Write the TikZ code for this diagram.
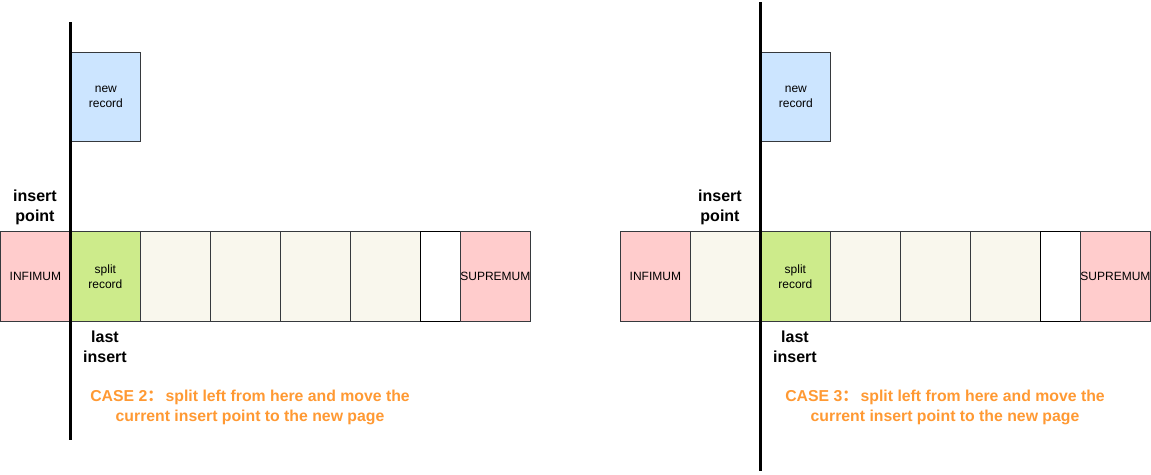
\documentclass[tikz,border=0pt]{standalone}
\usepackage{fontspec}
\setmainfont{Liberation Sans}
\newfontfamily\cjk{Noto Sans CJK SC}
\definecolor{pinkf}{HTML}{FFCCCC}
\definecolor{greenf}{HTML}{CDEB8B}
\definecolor{bluef}{HTML}{CCE5FF}
\definecolor{beigef}{HTML}{F9F7ED}
\definecolor{edge}{HTML}{36393D}
\definecolor{oranget}{HTML}{FF9933}
\begin{document}
\begin{tikzpicture}[x=1pt,y=-1pt,
  cell/.style={draw=edge,line width=0.8pt,minimum height=90pt,inner sep=0pt,font=\fontsize{12}{15}\selectfont,align=center,anchor=north west},
  rec/.style={cell,minimum width=70pt},
  narrow/.style={cell,minimum width=40pt,fill=white,draw=black},
  lbl/.style={font=\bfseries\fontsize{16}{20}\selectfont,align=center},
  casetxt/.style={font=\bfseries\fontsize{15.8}{20}\selectfont,align=center,text=oranget},
  split/.style={line width=3pt,black}]
\useasboundingbox (0,0) rectangle (1151,474);
% ---------- left diagram ----------
\node[rec,fill=pinkf] (linf) at (0,231) {INFIMUM};
\node[rec,fill=greenf] (lsplit) at (70,231) {split\\record};
\node[rec,fill=beigef] (lb1) at (140,231) {};
\node[rec,fill=beigef] (lb2) at (210,231) {};
\node[rec,fill=beigef] (lb3) at (280,231) {};
\node[rec,fill=beigef] (lb4) at (350,231) {};
\node[narrow] (lw) at (420,231) {};
\node[rec,fill=pinkf] (lsup) at (460,231) {SUPREMUM};
\node[cell,minimum width=69pt,minimum height=89pt,fill=bluef] (lnew) at (71,52) {new\\record};
\coordinate (lt) at (70,22);
\coordinate (lbot) at (70,440);
\draw[split] (lt) -- (lbot);
\node[lbl] (lip) at (35,207.5) {insert\\point};
\node[lbl] (lli) at (105,346.5) {last\\insert};
\node[casetxt] (lcase) at (250,407) {CASE 2{\cjk ：}\hspace{2.5pt}split left from here and move the\\current insert point to the new page};
% ---------- right diagram ----------
\node[rec,fill=pinkf] (rinf) at (620,231) {INFIMUM};
\node[rec,fill=beigef] (rb0) at (690,231) {};
\node[rec,fill=greenf] (rsplit) at (760,231) {split\\record};
\node[rec,fill=beigef] (rb1) at (830,231) {};
\node[rec,fill=beigef] (rb2) at (900,231) {};
\node[rec,fill=beigef] (rb3) at (970,231) {};
\node[narrow] (rw) at (1040,231) {};
\node[rec,fill=pinkf] (rsup) at (1080,231) {SUPREMUM};
\node[cell,minimum width=69pt,minimum height=89pt,fill=bluef] (rnew) at (761,52) {new\\record};
\coordinate (rt) at (760,2);
\coordinate (rbot) at (760,471);
\draw[split] (rt) -- (rbot);
\node[lbl] (rip) at (720,207.5) {insert\\point};
\node[lbl] (rli) at (795,346.5) {last\\insert};
\node[casetxt] (rcase) at (945,407) {CASE 3{\cjk ：}\hspace{2.5pt}split left from here and move the\\current insert point to the new page};
\end{tikzpicture}
\end{document}
